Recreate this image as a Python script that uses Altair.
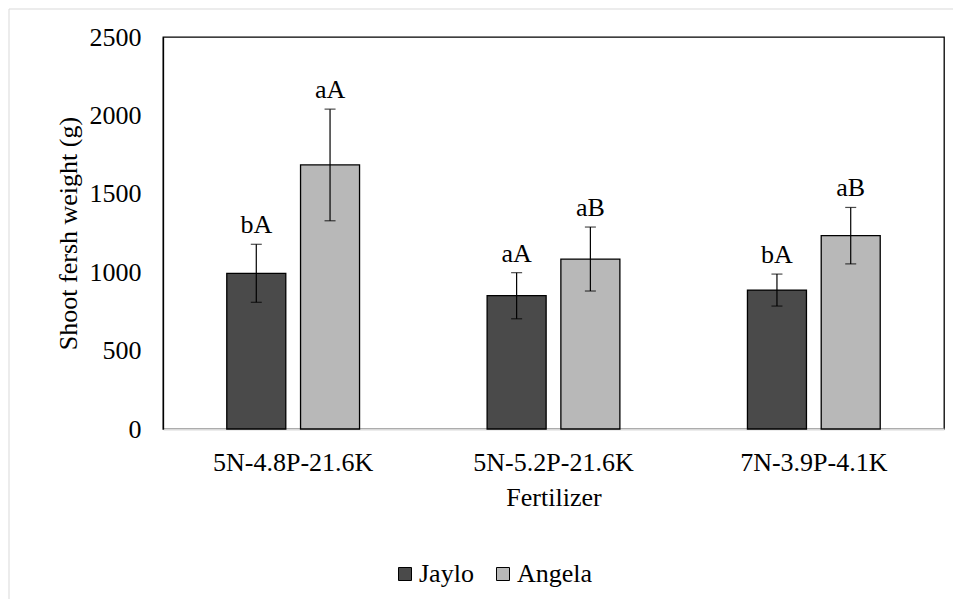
import altair as alt
import pandas as pd

fertilizers = ["5N-4.8P-21.6K", "5N-5.2P-21.6K", "7N-3.9P-4.1K"]
varieties = ["Jaylo", "Angela"]
jaylo_mean = [993, 850, 886]
jaylo_se = [185, 147, 102]
angela_mean = [1684, 1084, 1233]
angela_se = [356, 204, 180]
jaylo_letters = ["bA", "aA", "bA"]
angela_letters = ["aA", "aB", "aB"]
y_ticks = [0, 500, 1000, 1500, 2000, 2500]

rows = []
for i, f in enumerate(fertilizers):
    rows.append({"Fertilizer": f, "Variety": "Jaylo", "mean": jaylo_mean[i],
                 "lo": jaylo_mean[i] - jaylo_se[i], "hi": jaylo_mean[i] + jaylo_se[i],
                 "letter": jaylo_letters[i]})
    rows.append({"Fertilizer": f, "Variety": "Angela", "mean": angela_mean[i],
                 "lo": angela_mean[i] - angela_se[i], "hi": angela_mean[i] + angela_se[i],
                 "letter": angela_letters[i]})
df = pd.DataFrame(rows)

FONT = "Liberation Serif"
FS = 26

x_enc = alt.X("Fertilizer:N", sort=fertilizers,
              scale=alt.Scale(paddingInner=0.49, paddingOuter=0.245),
              axis=alt.Axis(title="Fertilizer", labelAngle=0, ticks=False,
                            domainColor="#d9d9d9", domainWidth=2,
                            labelFont=FONT, titleFont=FONT,
                            labelFontSize=FS, labelPadding=20, labelColor="#000",
                            titleFontSize=FS, titleFontWeight="normal",
                            titleColor="#000", titlePadding=9))
xo_enc = alt.XOffset("Variety:N", sort=varieties,
                     scale=alt.Scale(domain=varieties, paddingInner=0.2, paddingOuter=0))
y_scale = alt.Scale(domain=[0, 2500], nice=False)

base = alt.Chart(df)

bars = base.mark_bar(stroke="black", strokeWidth=1.3).encode(
    x=x_enc,
    xOffset=xo_enc,
    y=alt.Y("mean:Q", scale=y_scale,
            axis=alt.Axis(title="Shoot fersh weight (g)", values=y_ticks, ticks=False,
                          format="d", grid=False, domainColor="#000", domainWidth=1.3,
                          labelFont=FONT, titleFont=FONT,
                          labelFontSize=FS, labelPadding=22, labelColor="#000",
                          titleFontSize=FS, titleFontWeight="normal",
                          titleColor="#000", titlePadding=8)),
    fill=alt.Fill("Variety:N", sort=varieties,
                  scale=alt.Scale(domain=varieties, range=["#4a4a4a", "#b8b8b8"]),
                  legend=alt.Legend(title=None, orient="none", direction="horizontal",
                                    legendX=229, legendY=524, padding=0,
                                    symbolType="square",
                                    symbolSize=169, symbolStrokeColor="black",
                                    symbolStrokeWidth=1, labelFont=FONT, labelFontSize=FS,
                                    labelColor="#000", labelOffset=1,
                                    columnPadding=16)),
)

err = base.mark_rule(color="black", strokeWidth=1.2).encode(
    x="Fertilizer:N", xOffset=xo_enc,
    y=alt.Y("lo:Q", scale=y_scale), y2="hi:Q")

cap_hi = base.mark_tick(color="black", size=11, thickness=1.2, orient="horizontal").encode(
    x="Fertilizer:N", xOffset=xo_enc, y=alt.Y("hi:Q", scale=y_scale))
cap_lo = base.mark_tick(color="black", size=11, thickness=1.2, orient="horizontal").encode(
    x="Fertilizer:N", xOffset=xo_enc, y=alt.Y("lo:Q", scale=y_scale))

labels = base.mark_text(font=FONT, fontSize=FS, baseline="alphabetic", dy=-11,
                        color="#000").encode(
    x="Fertilizer:N", xOffset=xo_enc, y=alt.Y("hi:Q", scale=y_scale), text="letter:N")

frame = alt.Chart(pd.DataFrame({"k": [0]})).mark_rect(
    fill=None, stroke="#d9d9d9", strokeWidth=1).encode(
    x=alt.value(-154), x2=alt.value(830), y=alt.value(-28), y2=alt.value(640))

chart = alt.layer(frame, bars, err, cap_hi, cap_lo, labels).properties(
    width=781, height=392,
    autosize=alt.AutoSizeParams(type="none"),
    padding={"left": 155, "top": 29, "right": 9, "bottom": 170},
).configure(font=FONT).configure_view(stroke="black", strokeWidth=1.3)

chart.save("out.html", embed_options={"renderer": "svg", "actions": False})
